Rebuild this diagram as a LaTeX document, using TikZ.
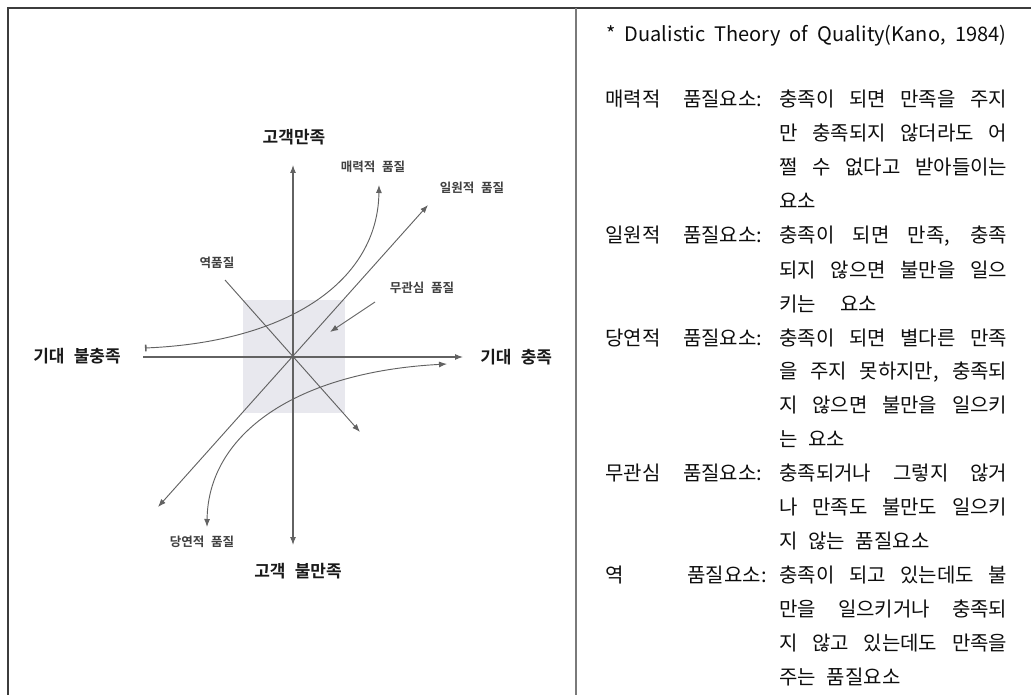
\documentclass[tikz,border=0pt]{standalone}
\usepackage{fontspec}
\setmainfont{Noto Sans CJK KR}[BoldFont={Noto Sans CJK KR Bold}, WordSpace=2.4]
\usepackage{xcolor}
\usetikzlibrary{arrows.meta}

\definecolor{framegray}{HTML}{3C3C3C}
\definecolor{rulegray}{HTML}{7A7A7A}
\definecolor{linegray}{HTML}{626262}
\definecolor{boxgray}{HTML}{E8E8EE}

% justified lines of the right column
\newcommand{\jline}[1]{\makebox[171pt][s]{#1}}
\newcommand{\jlabel}[1]{\makebox[117.75pt][s]{#1}}
\newcommand{\jtitle}[1]{\makebox[300pt][s]{#1}}

\begin{document}
\begin{tikzpicture}[x=0.75pt, y=-0.75pt,
  >={Latex[length=6pt,width=4.5pt]},
  axis/.style={draw=linegray, line width=0.8pt},
  curve/.style={draw=linegray, line width=0.7pt},
  axislabel/.style={inner sep=0pt, text=black!90, font=\bfseries\fontsize{12.75}{14}\selectfont},
  typelabel/.style={inner sep=0pt, text=black!75, font=\bfseries\fontsize{9.4}{11}\selectfont},
  desc/.style={anchor=base west, inner sep=0pt, text=black!95, font=\fontsize{15}{18}\selectfont}]
  \useasboundingbox (0,0) rectangle (1031,695);
  % 테두리
  \draw[framegray, line width=1.5pt] (8,695) -- (8,8) -- (1031,8);
  \draw[rulegray, line width=1.5pt] (576,8) -- (576,695);
  % 회색 영역
  \fill[boxgray] (243,300) rectangle (345,413);
  % 좌표점
  \coordinate (O) at (293,357);
  \coordinate (xL) at (143,357);
  \coordinate (xR) at (463,357);
  \coordinate (yT) at (293,165);
  \coordinate (yB) at (293,545);
  \coordinate (lin1) at (158,507);
  \coordinate (lin2) at (428,205);
  \coordinate (rev1) at (225,280);
  \coordinate (rev2) at (360,432);
  \coordinate (ind1) at (375,302);
  \coordinate (ind2) at (330,332);
  \coordinate (att1) at (145,348);
  \coordinate (att2) at (379,185);
  \coordinate (must1) at (207,527);
  \coordinate (must2) at (447,364);
  % 축
  \draw[axis, ->] (xL) -- (xR);
  \draw[axis, <->] (yB) -- (yT);
  % 일원적 품질
  \draw[curve, <->] (lin1) -- (lin2);
  % 역품질
  \draw[curve, ->] (rev1) -- (rev2);
  % 무관심 품질
  \draw[curve, ->] (ind1) -- (ind2);
  % 매력적 품질
  \draw[curve, {Bar[width=5pt,line width=1.2pt]}->] (att1) .. controls (290,342) and (378,280) .. (att2);
  % 당연적 품질
  \draw[curve, <->] (must1) .. controls (208,434) and (296,372) .. (must2);
  % 축 이름
  \node[axislabel] (sat) at (294,137) {고객만족};
  \node[axislabel] (dissat) at (298,571) {고객 불만족};
  \node[axislabel, anchor=west] (ful) at (480,357) {기대 충족};
  \node[axislabel] (unful) at (77,356) {기대 불충족};
  % 품질 이름
  \node[typelabel] (attL) at (373,167) {매력적 품질};
  \node[typelabel] (linL) at (472,188) {일원적 품질};
  \node[typelabel] (revL) at (217,263) {역품질};
  \node[typelabel] (indL) at (422,288) {무관심 품질};
  \node[typelabel] (mustL) at (202,542) {당연적 품질};
  % 오른쪽 설명
  \node[desc] (ttl) at (606,42) {\jtitle{* Dualistic Theory of Quality(Kano, 1984)}};
  \node[desc] (k1) at (605,107) {\jlabel{매력적 품질요소:}};
  \node[desc] (d1) at (779,107) {\jline{충족이 되면 만족을 주지}};
  \node[desc] (d2) at (779,141) {\jline{만 충족되지 않더라도 어}};
  \node[desc] (d3) at (779,175) {\jline{쩔 수 없다고 받아들이는}};
  \node[desc] (d4) at (779,209) {요소};
  \node[desc] (k2) at (605,243) {\jlabel{일원적 품질요소:}};
  \node[desc] (d5) at (779,243) {\jline{충족이 되면 만족, 충족}};
  \node[desc] (d6) at (779,277) {\jline{되지 않으면 불만을 일으}};
  \node[desc] (d7) at (779,311) {키는\hspace*{18pt}요소};
  \node[desc] (k3) at (605,345) {\jlabel{당연적 품질요소:}};
  \node[desc] (d8) at (779,345) {\jline{충족이 되면 별다른 만족}};
  \node[desc] (d9) at (779,378.5) {\jline{을 주지 못하지만, 충족되}};
  \node[desc] (d10) at (779,412.5) {\jline{지 않으면 불만을 일으키}};
  \node[desc] (d11) at (779,446.5) {는 요소};
  \node[desc] (k4) at (605,480.5) {\jlabel{무관심 품질요소:}};
  \node[desc] (d12) at (779,480.5) {\jline{충족되거나 그렇지 않거}};
  \node[desc] (d13) at (779,514) {\jline{나 만족도 불만도 일으키}};
  \node[desc] (d14) at (779,548) {지 않는 품질요소};
  \node[desc] (k5) at (605,582) {\makebox[121pt][s]{역 \hfill 품질요소:}};
  \node[desc] (d15) at (779,582) {\jline{충족이 되고 있는데도 불}};
  \node[desc] (d16) at (779,616) {\jline{만을 일으키거나 충족되}};
  \node[desc] (d17) at (779,650) {\jline{지 않고 있는데도 만족을}};
  \node[desc] (d18) at (779,684) {주는 품질요소};
\end{tikzpicture}
\end{document}
